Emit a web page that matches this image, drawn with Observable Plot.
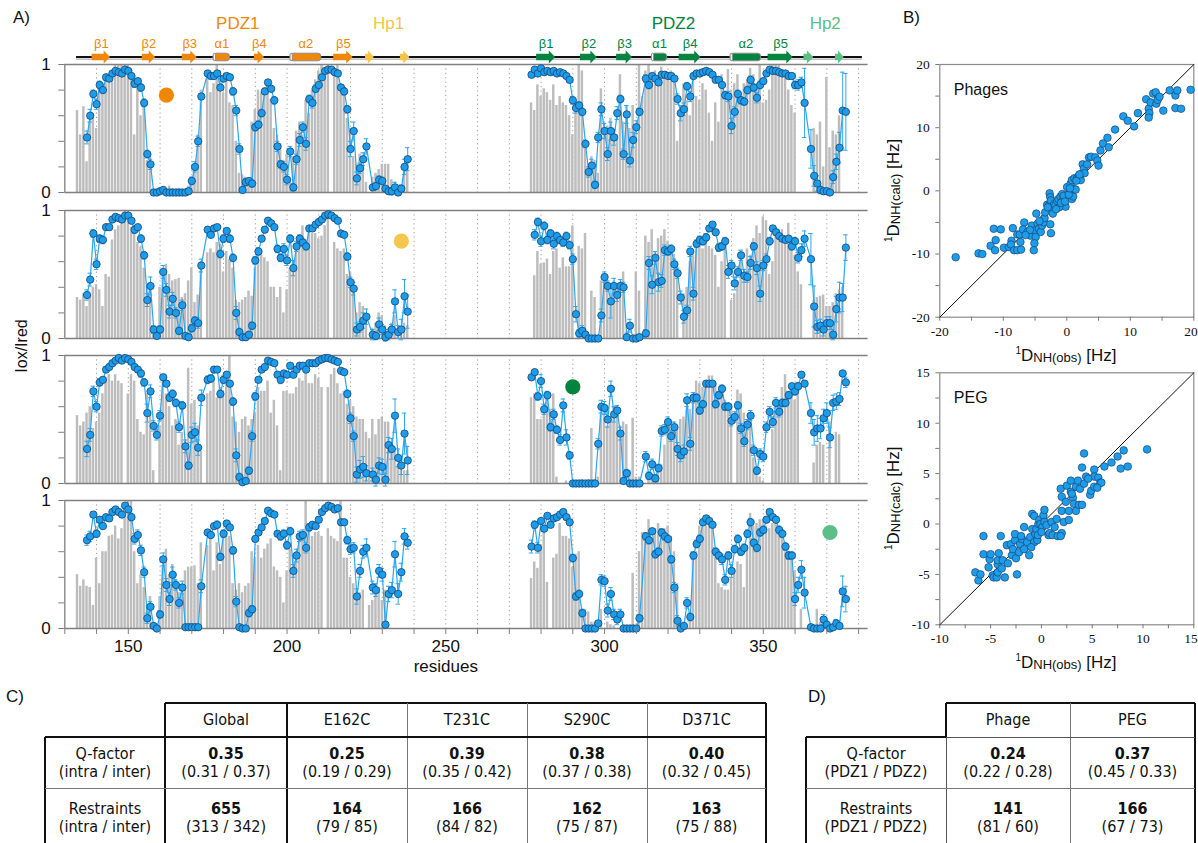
<!DOCTYPE html>
<html><head><meta charset="utf-8">
<script src="https://cdn.jsdelivr.net/npm/d3@7"></script>
<script src="https://cdn.jsdelivr.net/npm/@observablehq/plot@0.6"></script>
<style>
body{margin:0;background:#fff;}
#root{position:relative;width:1198px;height:843px;overflow:hidden;background:#fff;font-family:"Liberation Sans",Arial,sans-serif;color:#111;}
.t{position:absolute;white-space:nowrap;}
.cell{position:absolute;text-align:center;font-family:"Liberation Sans Narrow","Arial Narrow","DejaVu Sans Condensed","Liberation Sans",sans-serif;font-size:16px;line-height:18px;color:#111;}
.ln{position:absolute;}
</style></head><body><div id="root"></div>
<script>
// ---------------- DATA ----------------
const residueStartBarsA = 134, residueStartPtsA = 137, residueStartB = 277;
// gray bars (percent), residues 134..239 and 277..376
const bars1a = [64,45,67,24,55,60,50,85,80,92, 90,95,100,100,100,100,100,90,45,85, 60,72,25,30,0,0,2,4,3,5, 3,2,3,0,2,5,12,20,45,80, 0,90,78,85,100,95,78,90,70,68, 40,15,14,12,8,55,65,80,78,82, 86,73,50,45,38,25,30,10,28,48, 55,45,72,62,80,88,95,100,97,100, 0,96,100,85,82,58,50,28,22,30, 20,8,0,12,15,18,22,22,22,10, 0,3,5,18,28,0];
const bars1b = [70,64,84,75,81,78,72,84,68,75, 70,68,60,45,72,100,95,35,20,28, 25,15,81,45,52,58,40,45,92,55, 68,50,68,45,100,75,95,100,92,95, 90,98,92,88,95,90,40,62,85,72, 60,92,75,72,85,80,62,40,70,55, 92,72,96,80,85,92,72,85,88,97, 92,82,100,70,72,80,100,100,100,95, 90,80,68,62,0,0,0,0,0,50, 45,55,20,90,35,48,45,60,0,0];
const bars2a = [32,30,35,25,33,40,42,38,25,50, 48,77,85,88,95,100,100,87,87,75, 72,55,40,36,10,0,40,50,58,50, 45,46,47,32,35,45,55,28,34,60, 0,67,70,67,75,74,52,68,62,55, 30,28,30,32,37,33,55,68,65,63, 60,40,40,32,40,20,38,55,60,72, 78,88,72,88,82,82,78,80,88,95, 0,75,70,68,70,50,52,45,20,28, 25,20,0,8,12,20,18,10,8,12, 18,6,5,12,10,0];
const bars2b = [0,49,68,58,59,62,50,68,70,55, 63,56,56,88,0,72,70,82,0,37, 32,0,45,50,40,30,45,35,44,52, 5,0,0,52,37,0,80,75,85,68, 78,80,85,76,70,66,55,0,35,40, 60,65,70,75,70,80,72,70,65,40, 60,70,0,30,35,45,60,50,70,65, 78,88,82,95,92,50,60,85,85,85, 80,90,78,65,52,42,0,0,0,30, 32,33,34,25,25,28,35,38,40,0];
const bars3a = [53,45,48,55,60,43,48,55,70,80, 85,80,85,80,78,0,70,85,80,50, 40,38,70,55,10,0,45,85,70,60, 45,50,30,40,33,90,62,65,45,25, 0,70,72,82,67,75,70,82,100,52, 48,40,50,52,45,50,55,75,72,72, 80,55,65,45,10,72,72,70,70,75, 82,80,90,78,78,85,82,75,0,75, 85,90,78,70,72,62,65,60,52,50, 50,40,35,50,38,50,52,48,48,30, 25,15,12,10,10,0];
const bars3b = [67,70,50,50,55,70,58,70,5,0, 0,2,0,2,2,2,3,2,3,43, 3,5,55,58,45,50,60,60,45,48, 46,10,51,5,5,0,0,5,5,5, 10,15,30,40,42,48,45,50,52,58, 58,70,80,78,75,80,84,84,78,70, 75,65,58,60,0,73,70,55,50,45, 20,8,5,2,0,0,42,55,62,75, 85,70,68,65,75,0,0,0,0,16, 30,32,30,0,48,0,40,38,0,0];
const bars4a = [42,33,38,33,32,18,55,35,60,60, 72,73,80,70,78,90,100,100,60,35, 42,32,18,25,0,0,25,48,62,42, 50,38,28,30,45,48,48,49,35,67, 0,65,70,45,67,50,72,75,72,35, 30,35,28,33,35,60,55,65,55,62, 66,70,48,45,40,20,45,62,58,60, 70,72,100,80,72,75,75,72,0,78, 72,70,68,100,55,55,40,35,30,28, 30,0,18,22,30,32,22,30,0,0, 0,0,0,0,0,0];
const bars4b = [39,52,47,65,75,36,0,55,58,82, 72,72,70,48,58,60,15,15,13,5, 5,5,15,0,5,3,2,0,0,0, 0,0,43,0,60,75,72,85,70,78, 82,75,78,80,72,60,35,0,5,0, 10,55,60,80,82,85,88,78,62,35, 32,30,30,40,45,52,50,32,65,90, 80,82,85,85,80,78,82,85,80,75, 60,60,55,45,0,15,0,0,0,0, 15,5,0,0,0,0,0,0,0,0];

// blue points (percent), residues 137..238 and 277..376
const pts1a = [43,60,77,69,84,80,90,89,93,95, 94,93,96,95,91,85,87,82,70,30, 22,0,0,1,2,0,0,0,0,0, 0,0,1,9,20,40,75,null,93,91, 91,93,82,89,91,90,79,64,34,2, 8,9,7,51,53,62,79,86,81,72, 36,22,20,10,32,4,26,41,51,38, 73,70,81,84,90,95,96,96,94,93, 82,79,65,34,48,11,19,26,36,null, 4,5,10,9,3,1,1,4,0,3, 20,26];
const err1a = [5,5,3,4,3,2,2,2,1,1, 1,1,1,1,2,3,2,3,3,3, 4,1,1,1,1,1,1,1,1,1, 1,1,1,3,4,4,2,null,1,2, 2,1,2,2,2,2,3,4,4,2, 3,2,3,3,3,3,2,2,2,3, 4,3,4,4,4,3,4,5,4,5, 3,4,3,2,2,1,1,1,1,2, 2,3,3,6,7,5,4,5,6,null, 2,3,3,3,2,2,3,4,2,3, 6,9];
const pts1b = [92,96,93,97,94,95,94,95,93,94, 93,91,88,72,66,68,63,38,16,21, 6,43,65,48,30,48,43,62,73,30, 61,25,41,51,63,null,89,84,91,89, 86,92,92,91,91,89,73,62,65,83, 75,91,93,93,94,95,94,92,88,88, 84,76,75,52,63,77,72,71,80,88, 82,74,84,87,93,96,95,95,94,93, 93,91,91,84,84,86,70,null,34,13, 7,2,1,1,0,12,24,35,64,63];
const err1b = [2,1,1,1,1,1,1,1,1,1, 1,1,2,3,4,3,3,3,4,5, 3,4,5,6,5,7,6,5,3,4, 7,5,6,5,3,null,3,3,2,2, 2,2,2,2,2,2,4,6,5,3, 4,2,1,1,1,1,1,1,2,2, 2,3,4,6,4,3,3,3,3,3, 3,4,3,2,1,1,1,1,1,1, 1,2,2,3,4,4,27,null,15,8, 6,3,2,2,1,5,6,12,30,30];
const pts2a = [34,46,82,58,78,77,87,87,93,95, 94,93,96,96,92,85,87,78,65,30, 41,7,2,7,52,38,21,31,20,6, 26,2,1,8,14,12,57,null,85,81, 86,87,66,78,84,78,63,20,5,1, 1,3,10,61,68,78,85,92,90,87, 70,63,70,61,78,55,72,78,75,72, 86,86,89,91,93,96,97,96,94,92, 82,81,64,44,39,7,9,14,17,null, 3,2,11,7,1,3,7,29,5,7, 33,21];
const err2a = [4,5,3,4,3,3,2,2,1,1, 1,1,1,1,2,3,2,3,3,5, 7,3,2,3,5,5,5,5,4,3, 4,2,2,3,3,4,5,null,2,2, 2,2,3,3,2,3,3,5,3,2, 2,2,3,3,3,2,2,1,1,2, 3,3,4,4,3,6,4,3,3,3, 2,2,2,2,1,1,1,1,1,2, 2,2,3,4,5,5,4,6,6,null, 4,3,5,4,3,4,4,9,5,8, 13,13];
const pts2b = [null,81,91,76,88,77,82,74,80,77, 75,80,73,62,19,4,6,3,0,0, 0,0,18,48,41,29,41,34,41,40, 1,10,0,0,1,null,4,59,42,63, 44,45,69,68,70,58,51,32,17,22, 68,35,74,77,76,79,86,89,83,71, 72,76,52,57,43,52,65,49,48,59, 72,55,35,57,62,76,86,83,80,78, 77,78,72,76,63,69,78,null,62,25, 9,10,7,12,12,3,23,32,32,71];
const err2b = [null,4,3,4,3,3,3,4,3,3, 3,3,3,4,6,3,4,2,1,1, 1,1,5,4,4,13,6,5,5,4, 2,5,1,1,2,null,3,5,7,5, 7,5,4,3,3,4,4,5,5,4, 4,5,3,3,3,3,2,2,2,3, 3,3,5,4,5,4,4,5,4,5, 3,5,6,4,4,3,2,2,2,2, 2,2,3,3,4,5,6,null,20,16, 5,5,5,5,5,4,10,12,11,10];
const pts3a = [27,38,72,60,79,81,89,91,94,96, 98,96,98,97,95,91,89,86,79,55, 72,45,38,53,83,78,67,70,63,44, 61,29,14,38,40,28,67,null,81,82, 89,89,70,81,85,78,64,22,5,1, 2,10,37,68,81,89,91,96,95,94, 85,81,86,85,92,85,89,92,92,89, 94,94,94,96,97,98,98,97,96,95, 88,87,70,51,37,7,11,13,8,null, 7,3,14,13,3,30,27,53,20,14, 39,18];
const err3a = [6,5,4,4,3,2,2,2,1,1, 1,1,1,1,2,2,2,3,3,7, 5,4,4,4,2,2,3,3,3,4, 3,5,3,6,7,6,6,null,3,3, 2,2,3,3,2,2,3,5,3,2, 2,3,4,3,2,2,1,1,1,1, 2,3,2,2,2,2,2,2,2,2, 1,1,1,1,1,1,1,1,1,2, 2,2,3,4,4,6,7,8,6,null, 5,5,6,6,5,6,8,13,7,7, 16,11];
const pts3b = [83,87,68,80,58,69,44,54,42,34, 61,36,22,0,0,0,0,0,0,0, 0,31,60,59,50,74,54,57,39,2, 8,0,0,0,0,null,21,6,15,4, 12,41,42,48,37,44,27,22,25,65, 31,67,67,57,62,78,78,78,62,69, 74,60,60,49,52,61,43,33,46,53, 26,10,23,21,44,56,48,63,56,63, 63,69,76,72,76,85,78,null,55,40, 43,43,51,55,36,63,64,66,86,79];
const err3b = [2,2,3,5,4,3,3,4,3,4, 5,6,3,1,1,1,1,1,1,1, 1,4,5,5,6,6,6,4,5,2, 3,1,1,1,1,null,4,3,4,3, 3,4,4,4,4,4,5,5,5,5, 5,4,3,3,3,2,2,2,3,3, 3,3,3,4,4,3,4,4,4,4, 4,3,4,4,4,4,4,4,4,3, 3,3,2,3,3,2,2,null,8,10, 10,8,7,8,8,6,6,5,2,4];
const pts4a = [69,72,89,74,85,80,87,86,91,93, 91,89,96,93,87,70,73,61,44,8, 17,2,0,11,54,34,23,42,34,20, 32,1,1,1,1,1,33,null,75,73, 80,81,56,74,82,79,61,21,1,0, 0,12,15,70,75,79,84,92,90,89, 74,72,74,65,76,45,57,72,73,63, 79,81,80,85,91,94,96,95,93,94, 83,83,69,62,63,25,45,60,63,null, 32,30,45,42,3,27,30,58,27,44, 72,67];
const err4a = [4,4,2,3,2,2,2,2,1,1, 1,2,1,2,3,4,4,4,4,4, 4,2,1,3,5,5,5,6,4,4, 5,1,1,1,1,1,5,null,2,2, 2,3,3,3,2,2,3,4,1,1, 1,3,3,2,2,2,2,1,1,1, 2,3,3,3,3,5,5,4,4,4, 3,2,2,2,1,1,1,1,1,1, 2,2,3,4,4,6,5,5,7,null, 5,5,5,5,2,6,6,10,8,7, 6,5];
const pts4b = [64,81,63,84,78,88,81,86,87,89, 91,87,83,55,25,27,12,0,0,0, 0,4,38,37,14,27,11,7,11,0, 0,0,0,0,8,null,72,69,76,58, 60,75,72,70,54,32,6,0,2,20, 9,57,66,70,83,86,84,81,60,57, 54,38,57,45,62,70,60,63,74,83, 67,63,75,77,85,91,87,85,77,74, 64,57,57,23,34,46,28,null,1,0, 0,0,7,3,0,1,4,2,29,23];
const err4b = [5,3,4,2,2,2,2,2,2,2, 1,2,2,3,3,3,3,1,1,1, 1,2,4,4,5,5,4,4,4,1, 1,1,1,1,3,null,3,3,2,3, 3,3,3,3,3,4,4,1,2,4, 3,3,3,3,2,2,2,2,3,3, 4,4,3,5,3,3,3,3,3,3, 3,3,3,3,2,2,2,2,3,3, 3,3,3,5,6,7,12,null,1,1, 1,1,4,3,1,2,3,2,12,10];

// spin-label sites (coloured dots)
const siteResidue = [162, 236, 290, 371];
const siteValue = [0.76, 0.76, 0.755, 0.75];
const siteColor = ["#ef8700", "#f4c74c", "#00843e", "#5cbf88"];

// secondary structure
const ssStart = [138.6,154.4,167.0,176.9,189.7,201.1,214.7,224.7,235.7, 278.6,292.4,303.8,314.9,323.5,339.7,351.5,362.8,372.7];
const ssEnd   = [144.4,158.6,171.7,182.0,192.9,210.8,220.8,227.5,238.7, 284.6,297.7,308.8,319.7,330.4,349.3,359.4,365.9,375.5];
const ssType  = ["E","E","E","H","E","H","E","E","E", "E","E","E","H","E","H","E","E","E"];
const ssLabel = ["β1","β2","β3","α1","β4","α2","β5","","", "β1","β2","β3","α1","β4","α2","β5","",""];
const ssGroup = ["PDZ1","PDZ1","PDZ1","PDZ1","PDZ1","PDZ1","PDZ1","Hp1","Hp1", "PDZ2","PDZ2","PDZ2","PDZ2","PDZ2","PDZ2","PDZ2","Hp2","Hp2"];
const domainNames = ["PDZ1","Hp1","PDZ2","Hp2"];
const domainCenter = [184.5, 232, 321.7, 369.5];
const domainColor = {PDZ1:"#f0870a", Hp1:"#f5c445", PDZ2:"#00843f", Hp2:"#5bbf86"};
const backbone = [133.7, 381.2];
const xTicks = [130,140,150,160,170,180,190,200,210,220,230,240,250,260,270,280,290,300,310,320,330,340,350,360,370,380];
const xLabelTicks = [150,200,250,300,350];
const yTicks = [0,0.2,0.4,0.6,0.8,1];

// RDC scatter data [obs, calc]
const phages = [[-17.5,-10.5],[-13.9,-9.9],[-13.3,-10.0],[-12.0,-8.7],[-11.5,-6.0],[-11.2,-7.8],[-11.3,-9.4],[-10.4,-6.1],[-9.9,-9.0],[-9.1,-8.9],[-8.7,-7.9],[-8.8,-8.5],[-8.5,-5.9],[-8.3,-9.4],[-7.8,-9.4],[-7.8,-6.9],[-7.4,-6.9],[-7.3,-8.1],[-7.2,-9.3],[-6.7,-5.0],[-6.9,-6.1],[-6.2,-6.5],[-5.7,-7.1],[-5.5,-5.5],[-5.1,-6.3],[-4.9,-7.3],[-5.1,-8.3],[-5.2,-9.4],[-4.8,-3.6],[-4.6,-5.2],[-4.4,-6.0],[-4.1,-6.5],[-3.9,-5.5],[-3.6,-5.0],[-3.5,-4.3],[-3.4,-3.4],[-3.1,-2.2],[-2.8,-2.3],[-2.7,-0.4],[-2.6,-1.0],[-2.5,-1.5],[-2.6,-5.3],[-2.5,-6.7],[-2.3,-2.8],[-2.2,-3.6],[-2.0,-2.1],[-1.8,-2.3],[-1.5,-1.6],[-1.3,-1.3],[-1.0,-0.9],[-0.7,-0.5],[-0.6,-1.5],[-0.4,-2.1],[-0.2,-2.5],[-0.5,-0.8],[0.05,0.6],[0.6,1.1],[0.7,-0.2],[0.8,-1.3],[1.0,-0.9],[1.1,0.3],[1.4,0.2],[0.8,1.7],[1.2,2.0],[1.6,2.0],[1.9,2.4],[2.2,1.7],[2.3,2.7],[2.5,4.2],[2.7,3.5],[2.8,2.8],[3.2,4.2],[3.5,5.3],[3.8,5.4],[4.5,5.3],[4.8,4.8],[5.0,4.0],[5.3,6.4],[5.7,7.5],[6.4,8.4],[6.6,6.9],[7.6,9.7],[8.9,11.8],[9.6,11.1],[10.6,10.2],[11.2,12.3],[12.5,14.5],[12.9,13.0],[13.0,12.3],[12.9,11.6],[13.2,14.0],[13.6,15.4],[14.0,15.6],[14.1,13.8],[14.3,14.4],[14.6,14.9],[15.2,12.7],[16.2,15.9],[17.1,15.1],[17.4,15.9],[17.1,13.1],[18.0,13.0],[19.5,16.0],[-3.0,-2.6],[-1.2,-2.6],[-0.9,-1.9],[0.3,-0.6],[0.5,0.4],[1.5,1.6],[-5.8,-6.2],[-6.5,-7.0],[-4.3,-4.8],[-1.7,-2.9],[-0.3,-1.7],[2.0,2.6]];
const peg = [[-6.5,-4.8],[-6.2,-5.6],[-6.0,-5.0],[-5.7,-1.2],[-5.7,-3.0],[-5.2,-4.3],[-5.1,-3.5],[-5.0,-3.0],[-4.8,-5.1],[-4.7,-5.3],[-4.4,-5.3],[-4.3,-4.8],[-4.3,-4.0],[-4.3,-3.6],[-4.2,-2.9],[-4.0,-1.2],[-3.9,-4.4],[-3.8,-3.6],[-3.6,-5.3],[-3.3,-3.9],[-3.4,-2.1],[-3.0,-2.0],[-2.9,-3.1],[-2.8,-2.5],[-2.6,-1.6],[-2.6,-1.0],[-2.5,-3.4],[-2.4,-5.0],[-2.2,-2.8],[-2.1,-2.0],[-1.9,-1.5],[-1.7,-0.3],[-1.7,-2.5],[-1.4,-1.8],[-1.2,-3.1],[-1.1,-1.3],[-0.9,-0.5],[-0.9,1.0],[-0.7,0.8],[-0.7,-1.8],[-0.6,-1.0],[-0.5,-0.5],[-0.4,-1.6],[-0.35,-1.1],[-0.3,0.0],[-0.2,0.4],[-0.1,0.0],[0.1,-0.3],[0.2,0.85],[0.3,1.4],[0.3,0.2],[0.5,-0.1],[0.7,-1.1],[0.8,-0.9],[1.0,0.2],[1.1,-1.1],[1.5,0.5],[1.6,-1.2],[2.0,-0.9],[1.9,-1.2],[1.9,3.5],[2.0,2.7],[2.0,1.3],[2.2,0.2],[2.4,2.2],[2.5,3.8],[2.7,1.3],[2.7,0.4],[2.9,3.2],[2.9,4.3],[3.1,2.6],[3.2,2.0],[3.4,1.3],[3.4,3.7],[3.6,4.3],[3.7,1.9],[3.8,3.5],[4.0,1.9],[4.0,5.6],[4.2,4.0],[4.2,7.0],[4.4,4.7],[4.8,2.9],[4.9,3.3],[5.2,5.4],[5.2,4.7],[5.2,3.7],[5.6,4.6],[5.8,4.1],[5.9,4.1],[6.2,5.7],[6.9,6.1],[7.5,6.7],[7.8,5.5],[8.1,7.3],[8.5,5.7],[10.4,7.4],[-1.0,-2.3],[-2.0,-1.2],[0.0,-0.8],[1.3,-0.3],[3.0,3.0],[4.6,4.5],[5.5,3.6]];
const phagesDomain = [-20, 20], phagesTicks = [-20,-15,-10,-5,0,5,10,15,20], phagesLabels = [-20,-10,0,10,20];
const pegDomain = [-10, 15], pegTicks = [-10,-7.5,-5,-2.5,0,2.5,5,7.5,10,12.5,15], pegLabels = [-10,-5,0,5,10,15];

// tables
const tableCCols = ["Global","E162C","T231C","S290C","D371C"];
const tableCQ = ["0.35","0.25","0.39","0.38","0.40"];
const tableCQsub = ["(0.31 / 0.37)","(0.19 / 0.29)","(0.35 / 0.42)","(0.37 / 0.38)","(0.32 / 0.45)"];
const tableCR = ["655","164","166","162","163"];
const tableCRsub = ["(313 / 342)","(79 / 85)","(84 / 82)","(75 / 87)","(75 / 88)"];
const tableDCols = ["Phage","PEG"];
const tableDQ = ["0.24","0.37"];
const tableDQsub = ["(0.22 / 0.28)","(0.45 / 0.33)"];
const tableDR = ["141","166"];
const tableDRsub = ["(81 / 60)","(67 / 73)"];

// ---------------- DRAWING ----------------
const root = document.getElementById("root");
const SANS = '"Liberation Sans", Arial, sans-serif';
const SERIF = '"Liberation Serif", "Times New Roman", serif';
function place(el, left, top){ el.style.position="absolute"; el.style.left=left+"px"; el.style.top=top+"px"; root.appendChild(el); return el; }
function txt(s, left, top, css){ const d=document.createElement("div"); d.className="t"; d.textContent=s; Object.assign(d.style, css||{}); return place(d,left,top); }

const W = 900, ML = 64.3, MR = W - 867.6, xDom = [130, 383];
const BLUE = "#1c9dec", BLUE_LINE = "#2aa6f4", DOT_STROKE = "#1b4571";

function seg(start, arr, name, errs){
  return arr.map((v,i)=>({r:start+i, v: v==null?null:v/100, e: errs && errs[i]!=null ? errs[i]/100 : 0, seg:name}));
}
const barsA=[bars1a,bars2a,bars3a,bars4a], barsB=[bars1b,bars2b,bars3b,bars4b];
const ptsA=[pts1a,pts2a,pts3a,pts4a], ptsB=[pts1b,pts2b,pts3b,pts4b];
const errA=[err1a,err2a,err3a,err4a], errB=[err1b,err2b,err3b,err4b];
const panelTops=[64,209.6,354.8,499.7], PH=128;

// secondary structure strip
(function(){
  const els = ssStart.map((s,i)=>({s, e:ssEnd[i], type:ssType[i], label:ssLabel[i], color:domainColor[ssGroup[i]], id:i}));
  const arrows = [];
  els.filter(d=>d.type==="E").forEach(d=>{
    const head = Math.min(2.0, (d.e-d.s)*0.65);
    const h = d.e-head;
    arrows.push({x:d.s,y1:-3.3,y2:3.3,id:d.id,color:d.color},{x:h,y1:-3.3,y2:3.3,id:d.id,color:d.color},
                {x:h,y1:-6.6,y2:6.6,id:d.id,color:d.color},{x:d.e,y1:0,y2:0,id:d.id,color:d.color});
  });
  const helices = els.filter(d=>d.type==="H");
  const doms = domainNames.map((n,i)=>({n, x:domainCenter[i], color:domainColor[n]}));
  const p = Plot.plot({
    width:W, height:75, marginLeft:ML, marginRight:MR, marginTop:0, marginBottom:0,
    x:{domain:xDom, axis:null}, y:{domain:[-18,57], axis:null},
    style:{background:"transparent", fontFamily:SANS, overflow:"visible"},
    marks:[
      Plot.ruleY([-1.6], {x1:backbone[0], x2:backbone[1], stroke:"#9a9a9a", strokeWidth:1}),
      Plot.ruleY([0.4], {x1:backbone[0], x2:backbone[1], stroke:"#111", strokeWidth:2}),
      Plot.areaY(arrows, {x:"x", y1:"y1", y2:"y2", z:"id", fill:"color", curve:"linear"}),
      Plot.rect(helices, {x1:"s", x2:"e", y1:-3.8, y2:3.8, fill:"color", stroke:"#8c8c8c", strokeWidth:1, rx:3}),
      Plot.rect(helices, {x1:"s", x2:d=>d.s+0.7, y1:-3.8, y2:3.8, fill:"#fff", stroke:"#8c8c8c", strokeWidth:1, rx:2}),
      Plot.text(els.filter(d=>d.label), {x:d=>(d.s+d.e)/2, y:14, text:"label", fill:"color", fontSize:13}),
      Plot.text(doms, {x:"x", y:34, text:"n", fill:"color", fontSize:17})
    ]
  });
  place(p, 0, 0);
})();

// four PRE panels
for (let k=0;k<4;k++){
  const bars = [...seg(residueStartBarsA, barsA[k], "a"), ...seg(residueStartB, barsB[k], "b")].filter(d=>d.v>0);
  const pts = [...seg(residueStartPtsA, ptsA[k], "a", errA[k]), ...seg(residueStartB, ptsB[k], "b", errB[k])].filter(d=>d.v!=null);
  const mt=10, mb = k===3 ? 62 : 6;
  const marks = [
    Plot.ruleX(xTicks.slice(1), {stroke:"#9c9c9c", strokeWidth:1, strokeDasharray:"1.2,3.2"}),
    Plot.rect(bars, {x1:d=>d.r-0.39, x2:d=>d.r+0.39, y1:0, y2:"v", fill:"#bdbdbd"}),
    Plot.ruleY([0,1], {stroke:"#808080", strokeWidth:1.3}),
    Plot.ruleX([130], {stroke:"#808080", strokeWidth:1.3}),
    Plot.axisY({ticks:yTicks, tickSize:6, tickPadding:8, tickFormat:d=>d===0?"0":d===1?"1":"", fontSize:17, stroke:"#808080", fill:"#111", label:null}),
    Plot.ruleX(pts.filter(d=>d.e>0), {x:"r", y1:d=>d.v-d.e, y2:d=>d.v+d.e, stroke:BLUE_LINE, strokeWidth:1}),
    Plot.ruleY(pts.filter(d=>d.e>0), {y:d=>d.v+d.e, x1:d=>d.r-0.7, x2:d=>d.r+0.7, stroke:BLUE_LINE, strokeWidth:1}),
    Plot.ruleY(pts.filter(d=>d.e>0), {y:d=>d.v-d.e, x1:d=>d.r-0.7, x2:d=>d.r+0.7, stroke:BLUE_LINE, strokeWidth:1}),
    Plot.line(pts, {x:"r", y:"v", z:"seg", stroke:BLUE_LINE, strokeWidth:1.2}),
    Plot.dot(pts, {x:"r", y:"v", r:3.7, fill:BLUE, stroke:DOT_STROKE, strokeWidth:0.8}),
    Plot.dot([0], {x:()=>siteResidue[k], y:()=>siteValue[k], r:7.6, fill:siteColor[k]})
  ];
  if (k===3){
    marks.push(Plot.axisX({ticks:xTicks, tickSize:6, tickPadding:5, tickFormat:d=>xLabelTicks.includes(d)?String(d):"", fontSize:17, stroke:"#808080", fill:"#111", label:null}));
    marks.push(Plot.text(["residues"], {x:250, frameAnchor:"bottom", dy:43, fontSize:17, fill:"#111"}));
  }
  const p = Plot.plot({
    width:W, height:mt+PH+mb, marginLeft:ML, marginRight:MR, marginTop:mt, marginBottom:mb,
    x:{domain:xDom, axis:null}, y:{domain:[0,1], axis:null},
    style:{background:"transparent", fontFamily:SANS, overflow:"visible"},
    marks
  });
  place(p, 0, panelTops[k]-mt);
}

// scatter plots
function rdcLabel(svg, x, y, rot, sub){
  const t = d3.select(svg).append("text").attr("transform",`translate(${x},${y}) rotate(${rot})`)
    .attr("text-anchor","middle").attr("font-family",SANS).attr("fill","#111");
  t.append("tspan").attr("font-size",10).attr("dy",-7).text("1");
  t.append("tspan").attr("font-size",17).attr("dy",7).text("D");
  t.append("tspan").attr("font-size",13).attr("dy",1).text(sub);
  t.append("tspan").attr("font-size",17).attr("dy",-1).text(" [Hz]");
}
function scatter(data, dom, ticks, labs, name, top, H, mt, frameBottom){
  const lastLab = labs[labs.length-1];
  const p = Plot.plot({
    width:318, height:H, marginLeft:59.3, marginRight:4.7, marginTop:mt, marginBottom:H-frameBottom,
    x:{domain:dom}, y:{domain:dom},
    style:{background:"transparent", fontFamily:SERIF, fontSize:"13px", overflow:"visible"},
    marks:[
      Plot.frame({stroke:"#8a8a8a", strokeWidth:1.2}),
      Plot.axisX({ticks, tickSize:4, tickPadding:5, tickFormat:d=>(labs.includes(d)&&d!==lastLab)?String(d):"", fontSize:13.5, stroke:"#777", fill:"#111", label:null}),
      Plot.text([lastLab], {x:d=>d, frameAnchor:"bottom", lineAnchor:"top", dy:9, dx:4, textAnchor:"end", text:d=>String(d), fontSize:13.5, fill:"#111"}),
      Plot.axisY({ticks, tickSize:4, tickPadding:6, tickFormat:d=>labs.includes(d)?String(d):"", fontSize:13.5, stroke:"#777", fill:"#111", label:null}),
      Plot.line(dom, {x:d=>d, y:d=>d, stroke:"#111", strokeWidth:1}),
      Plot.dot(data, {x:d=>d[0], y:d=>d[1], r:3.8, fill:BLUE, stroke:DOT_STROKE, strokeWidth:0.7}),
      Plot.text([name], {frameAnchor:"top-left", dx:14, dy:19, fontFamily:SANS, fontSize:16, textAnchor:"start", fill:"#111"})
    ]
  });
  const cy = (mt+frameBottom)/2;
  rdcLabel(p, 19, cy, -90, "NH(calc)");
  rdcLabel(p, 186, frameBottom+44, 0, "NH(obs)");
  place(p, 880, top);
}
scatter(phages, phagesDomain, phagesTicks, phagesLabels, "Phages", 40, 330, 24, 276.7);
scatter(peg, pegDomain, pegTicks, pegLabels, "PEG", 340, 340, 32.3, 284.3);

// panel letters & y label
txt("A)", 13, 8, {fontSize:"17px"});
txt("B)", 903, 8, {fontSize:"17px"});
txt("C)", 6, 687, {fontSize:"17px"});
txt("D)", 808, 687, {fontSize:"17px"});
const yl = txt("Iox/Ired", 0, 0, {fontSize:"16px"});
yl.style.left="22px"; yl.style.top="346px"; yl.style.transform="translate(-50%,-50%) rotate(-90deg)";

// tables
function hl(x1,x2,y,w,c){ const d=document.createElement("div"); d.className="ln"; Object.assign(d.style,{width:(x2-x1)+"px",height:w+"px",background:c||"#111"}); place(d,x1,y-w/2); }
function vl(x,y1,y2,w,c){ const d=document.createElement("div"); d.className="ln"; Object.assign(d.style,{width:w+"px",height:(y2-y1)+"px",background:c||"#111"}); place(d,x-w/2,y1); }
function cell(x1,x2,top,lines){ const d=document.createElement("div"); d.className="cell"; d.style.width=(x2-x1)+"px";
  d.innerHTML = lines.map(l=>l.b?`<b>${l.t}</b>`:l.t).join("<br>"); place(d,x1,top); }
const yH=703, yB=737, yR=788, yEnd=860;
// table C
const cX=[165,287,407,527,647,766], cLab=[45,165];
hl(165,766,yH,2); vl(165,yH,yEnd,2); vl(287,yH,yEnd,2); vl(766,yH,yEnd,2);
[407,527,647].forEach(x=>vl(x,yH,yEnd,1,"#777"));
hl(45,766,yB,2); vl(45,yB,yEnd,2); hl(45,766,yR,1,"#777");
tableCCols.forEach((c,i)=>{
  cell(cX[i],cX[i+1],711,[{t:c}]);
  cell(cX[i],cX[i+1],745,[{t:tableCQ[i],b:1},{t:tableCQsub[i]}]);
  cell(cX[i],cX[i+1],800,[{t:tableCR[i],b:1},{t:tableCRsub[i]}]);
});
cell(cLab[0],cLab[1],745,[{t:"Q-factor"},{t:"(intra / inter)"}]);
cell(cLab[0],cLab[1],800,[{t:"Restraints"},{t:"(intra / inter)"}]);
// table D
const dX=[946,1070,1195], dLab=[806,946];
hl(946,1195,yH,2); vl(946,yH,yB,2); vl(946,yB,yEnd,1,"#555"); vl(1070,yH,yEnd,1,"#777"); vl(1195,yH,yEnd,2);
hl(806,946,yB,2); hl(946,1195,yB,1,"#555"); vl(806,yB,yEnd,2); hl(806,1195,yR,1,"#777");
tableDCols.forEach((c,i)=>{
  cell(dX[i],dX[i+1],711,[{t:c}]);
  cell(dX[i],dX[i+1],745,[{t:tableDQ[i],b:1},{t:tableDQsub[i]}]);
  cell(dX[i],dX[i+1],800,[{t:tableDR[i],b:1},{t:tableDRsub[i]}]);
});
cell(dLab[0],dLab[1],745,[{t:"Q-factor"},{t:"(PDZ1 / PDZ2)"}]);
cell(dLab[0],dLab[1],800,[{t:"Restraints"},{t:"(PDZ1 / PDZ2)"}]);
</script></body></html>
